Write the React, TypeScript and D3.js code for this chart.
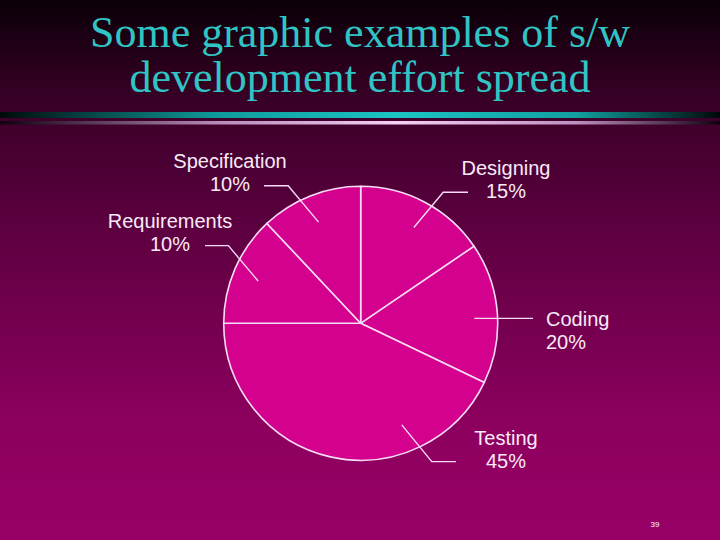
import * as d3 from "d3";
import { useEffect, useRef } from "react";

// slice shares as drawn in the slide (clockwise from 12 o'clock)
const phases = ["Designing", "Coding", "Testing", "Requirements", "Specification"];
const shares = [15.5, 16.6, 42.9, 13.0, 12.0];
const pctLabels = ["15%", "20%", "45%", "10%", "10%"];

const titleLines = ["Some graphic examples of s/w", "development effort spread"];
const pageNo = "39";

const W = 720;
const H = 540;
const cx = 360.7;
const cy = 323.3;
const R = 137;

// leader line + text placement for each label
const labelLayout = {
  Designing: { inDeg: 29, inR: 0.8, elDeg: 32.2, elR: 1.13, endX: 468, tx: 506, ty: 175, anchor: "middle" },
  Coding: { inDeg: 87.5, inR: 0.83, elDeg: 87.5, elR: 0.83, endX: 533, tx: 546, ty: 326, anchor: "start" },
  Testing: { inDeg: 158, inR: 0.8, elDeg: 152.8, elR: 1.135, endX: 456, tx: 506, ty: 445, anchor: "middle" },
  Requirements: { inDeg: 292.4, inR: 0.81, elDeg: 300.4, elR: 1.12, endX: 205, tx: 170, ty: 228, anchor: "middle" },
  Specification: { inDeg: 337.4, inR: 0.8, elDeg: 332.2, elR: 1.135, endX: 264, tx: 230, ty: 168, anchor: "middle" },
};

const polar = (deg, rf) => {
  const a = (deg * Math.PI) / 180;
  return [cx + Math.sin(a) * R * rf, cy - Math.cos(a) * R * rf];
};

const App = () => {
  const svgRef = useRef(null);

  useEffect(() => {
    const svg = d3.select(svgRef.current);
    svg.selectAll("*").remove();

    const defs = svg.append("defs");
    const bg = defs.append("linearGradient").attr("id", "bg").attr("x1", 0).attr("y1", 0).attr("x2", 0).attr("y2", 1);
    bg.append("stop").attr("offset", "0%").attr("stop-color", "#0a0008");
    bg.append("stop").attr("offset", "18%").attr("stop-color", "#380026");
    bg.append("stop").attr("offset", "43%").attr("stop-color", "#5e0041");
    bg.append("stop").attr("offset", "78%").attr("stop-color", "#8c005e");
    bg.append("stop").attr("offset", "100%").attr("stop-color", "#980066");

    const teal = defs.append("linearGradient").attr("id", "teal");
    teal.append("stop").attr("offset", "0%").attr("stop-color", "#000a0a");
    teal.append("stop").attr("offset", "30%").attr("stop-color", "#0f9a9a");
    teal.append("stop").attr("offset", "55%").attr("stop-color", "#1cc4c4");
    teal.append("stop").attr("offset", "80%").attr("stop-color", "#12a0a0");
    teal.append("stop").attr("offset", "100%").attr("stop-color", "#000808");

    const pink = defs.append("linearGradient").attr("id", "pink");
    pink.append("stop").attr("offset", "0%").attr("stop-color", "#100010");
    pink.append("stop").attr("offset", "30%").attr("stop-color", "#b88ab8");
    pink.append("stop").attr("offset", "55%").attr("stop-color", "#f6d0f6");
    pink.append("stop").attr("offset", "80%").attr("stop-color", "#c090c0");
    pink.append("stop").attr("offset", "100%").attr("stop-color", "#100010");

    svg.append("rect").attr("width", W).attr("height", H).attr("fill", "url(#bg)");

    svg.selectAll(".title")
      .data(titleLines)
      .enter()
      .append("text")
      .attr("x", W / 2)
      .attr("y", (d, i) => 47 + i * 45)
      .attr("text-anchor", "middle")
      .attr("font-family", "'Liberation Serif', 'Times New Roman', serif")
      .attr("font-size", 44)
      .attr("fill", "#30c4c4")
      .text(d => d);

    svg.append("rect").attr("x", 0).attr("y", 112).attr("width", W).attr("height", 6).attr("fill", "url(#teal)");
    svg.append("rect").attr("x", 0).attr("y", 121).attr("width", W).attr("height", 3.5).attr("fill", "url(#pink)");

    const pie = d3.pie().sort(null).value(d => d)(shares);
    const arc = d3.arc().innerRadius(0).outerRadius(R);

    const g = svg.append("g").attr("transform", `translate(${cx},${cy})`);
    g.selectAll("path")
      .data(pie)
      .enter()
      .append("path")
      .attr("d", arc)
      .attr("fill", "#d4008e")
      .attr("stroke", "#f6dcf6")
      .attr("stroke-width", 1.6)
      .attr("stroke-linejoin", "round");

    phases.forEach((name, i) => {
      const L = labelLayout[name];
      const p1 = polar(L.inDeg, L.inR);
      const p2 = polar(L.elDeg, L.elR);
      const p3 = [L.endX, p2[1]];
      svg.append("path")
        .attr("d", d3.line()([p1, p2, p3]))
        .attr("fill", "none")
        .attr("stroke", "#f6dcf6")
        .attr("stroke-width", 1.4);

      const t = svg.append("text")
        .attr("text-anchor", L.anchor)
        .attr("font-family", "'Liberation Sans', Arial, sans-serif")
        .attr("font-size", 20)
        .attr("fill", "#f8eaf8");
      t.append("tspan").attr("x", L.tx).attr("y", L.ty).text(name);
      t.append("tspan").attr("x", L.tx).attr("y", L.ty + 23).text(pctLabels[i]);
    });

    svg.append("text")
      .attr("x", 655)
      .attr("y", 527)
      .attr("text-anchor", "middle")
      .attr("font-family", "'Liberation Sans', Arial, sans-serif")
      .attr("font-size", 8)
      .attr("fill", "#ffffff")
      .text(pageNo);
  }, []);

  return (
    <div>
      <svg ref={svgRef} width={W} height={H} style={{ position: "absolute", left: 0, top: 0, display: "block" }} />
    </div>
  );
};

export default App;
